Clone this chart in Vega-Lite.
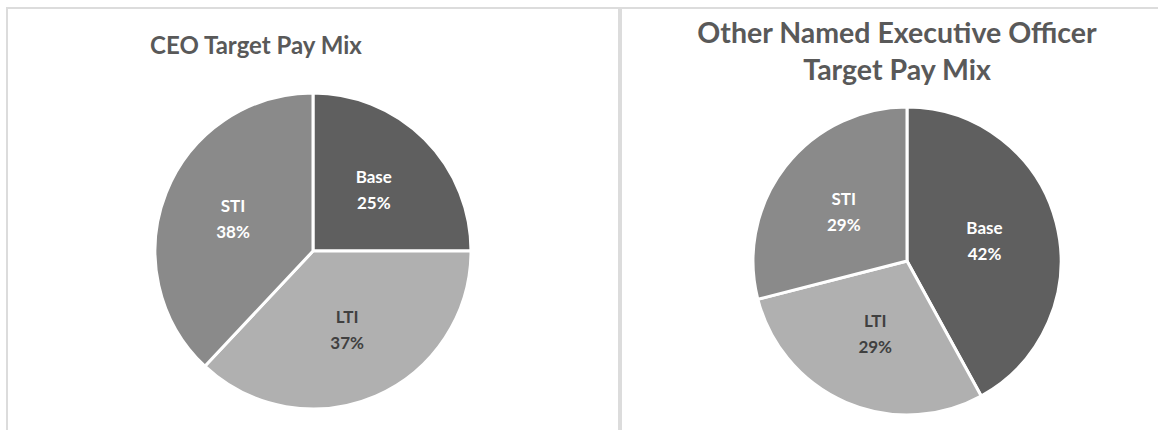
{
  "$schema": "https://vega.github.io/schema/vega-lite/v6.json",
  "padding": {"left": 6, "top": 7, "right": 0, "bottom": 0},
  "autosize": {"type": "pad"},
  "background": "white",
  "spacing": 0,
  "config": {
    "view": {"stroke": "#dcdcdc", "strokeWidth": 2},
    "font": "Lato",
    "title": {"font": "Lato", "fontWeight": "bold", "color": "#595959", "lineHeight": 37, "anchor": "middle", "frame": "group"}
  },
  "hconcat": [
    {
      "width": 612,
      "height": 486,
      "view": {"stroke": "#dcdcdc", "strokeWidth": 2},
      "title": {"text": "CEO Target Pay Mix", "fontSize": 24, "offset": -51, "dx": -57},
      "data": {"values": [
        {"part": "Base", "value": 25, "rank": 1, "label": ["Base", "25%"]},
        {"part": "LTI", "value": 37, "rank": 2, "label": ["LTI", "37%"]},
        {"part": "STI", "value": 38, "rank": 3, "label": ["STI", "38%"]}
      ]},
      "encoding": {
        "theta": {"field": "value", "type": "quantitative", "stack": true},
        "order": {"field": "rank", "type": "quantitative"}
      },
      "layer": [
        {
          "mark": {"type": "arc", "radius": 158, "stroke": "white", "strokeWidth": 3},
          "encoding": {
            "color": {"field": "part", "type": "nominal", "legend": null,
              "scale": {"domain": ["Base", "LTI", "STI"], "range": ["#5f5f5f", "#b0b0b0", "#8a8a8a"]}}
          }
        },
        {
          "mark": {"type": "text", "radius": 86, "dy": -12, "fontWeight": "bold", "fontSize": 17, "lineHeight": 26, "baseline": "middle", "align": "center"},
          "encoding": {
            "text": {"field": "label"},
            "color": {"condition": {"test": "datum.part === 'LTI'", "value": "#404040"}, "value": "white"}
          }
        }
      ]
    },
    {
      "width": 572,
      "height": 506,
      "view": {"stroke": "#dcdcdc", "strokeWidth": 2},
      "title": {"text": ["Other Named Executive Officer", "Target Pay Mix"], "fontSize": 28.5, "offset": -77, "dx": -10},
      "data": {"values": [
        {"part": "Base", "value": 42, "rank": 1, "label": ["Base", "42%"]},
        {"part": "LTI", "value": 29, "rank": 2, "label": ["LTI", "29%"]},
        {"part": "STI", "value": 29, "rank": 3, "label": ["STI", "29%"]}
      ]},
      "encoding": {
        "theta": {"field": "value", "type": "quantitative", "stack": true},
        "order": {"field": "rank", "type": "quantitative"}
      },
      "layer": [
        {
          "mark": {"type": "arc", "radius": 154, "stroke": "white", "strokeWidth": 3},
          "encoding": {
            "color": {"field": "part", "type": "nominal", "legend": null,
              "scale": {"domain": ["Base", "LTI", "STI"], "range": ["#5f5f5f", "#b0b0b0", "#8a8a8a"]}}
          }
        },
        {
          "mark": {"type": "text", "radius": 80, "dy": -12, "fontWeight": "bold", "fontSize": 17, "lineHeight": 26, "baseline": "middle", "align": "center"},
          "encoding": {
            "text": {"field": "label"},
            "color": {"condition": {"test": "datum.part === 'LTI'", "value": "#404040"}, "value": "white"}
          }
        }
      ]
    }
  ]
}
